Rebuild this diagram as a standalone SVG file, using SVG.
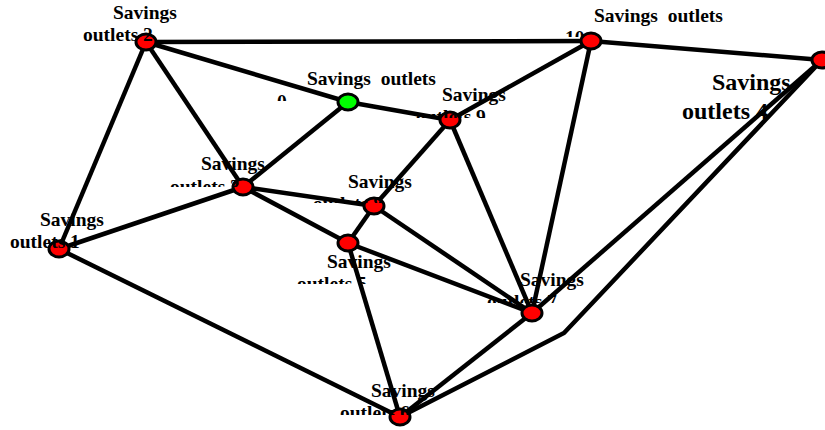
<svg xmlns="http://www.w3.org/2000/svg" width="825" height="430" viewBox="0 0 825 430">
<style>
.e{stroke:#000;stroke-width:4.5;fill:none;stroke-linejoin:miter}
.n{fill:#f00;stroke:#000;stroke-width:3}
.g{fill:#0f0;stroke:#000;stroke-width:3}
.t{font-family:'Liberation Serif','Times New Roman',serif;font-weight:bold;font-size:19.5px;fill:#000}
.big{font-size:24px}
</style>
<defs>
<clipPath id="c0"><rect x="0" y="0" width="825" height="101"/></clipPath>
<clipPath id="c9"><rect x="0" y="0" width="825" height="118"/></clipPath>
<clipPath id="c10"><rect x="0" y="0" width="825" height="37"/></clipPath>
<clipPath id="c3"><rect x="0" y="0" width="825" height="187"/></clipPath>
<clipPath id="c8"><rect x="0" y="0" width="825" height="203"/></clipPath>
<clipPath id="c5"><rect x="0" y="0" width="825" height="284"/></clipPath>
<clipPath id="c7"><rect x="0" y="0" width="825" height="303"/></clipPath>
<clipPath id="c6"><rect x="0" y="0" width="825" height="415"/></clipPath>
</defs>
<rect width="825" height="430" fill="#fff"/>
<g id="connectors">
<line class="e" x1="146" y1="42" x2="591" y2="41"/>
<line class="e" x1="591" y1="41" x2="822" y2="60"/>
<line class="e" x1="146" y1="42" x2="348" y2="102"/>
<line class="e" x1="348" y1="102" x2="450" y2="120"/>
<line class="e" x1="450" y1="120" x2="591" y2="41"/>
<line class="e" x1="146" y1="42" x2="59" y2="249"/>
<line class="e" x1="146" y1="42" x2="243" y2="187"/>
<line class="e" x1="243" y1="187" x2="348" y2="102"/>
<line class="e" x1="243" y1="187" x2="59" y2="249"/>
<line class="e" x1="243" y1="187" x2="374" y2="206"/>
<line class="e" x1="243" y1="187" x2="348" y2="243"/>
<line class="e" x1="374" y1="206" x2="450" y2="120"/>
<line class="e" x1="374" y1="206" x2="532" y2="313"/>
<line class="e" x1="450" y1="120" x2="532" y2="313"/>
<line class="e" x1="591" y1="41" x2="532" y2="313"/>
<line class="e" x1="374" y1="206" x2="348" y2="243"/>
<line class="e" x1="348" y1="243" x2="532" y2="313"/>
<line class="e" x1="348" y1="243" x2="400" y2="417"/>
<line class="e" x1="59" y1="249" x2="400" y2="417"/>
<line class="e" x1="532" y1="313" x2="400" y2="417"/>
<line class="e" x1="822" y1="60" x2="532" y2="313"/>
<polyline class="e" points="822,60 564,333 400,417"/>
</g>
<g id="n2"><ellipse class="n" cx="146" cy="42" rx="10" ry="8"/><text class="t" x="113" y="19">Savings</text><text class="t" x="83" y="41">outlets 2</text></g>
<g id="n0"><ellipse class="g" cx="348" cy="102" rx="10" ry="8"/><text class="t" x="307" y="85" xml:space="preserve">Savings  outlets</text><text class="t" x="277" y="108" clip-path="url(#c0)">0</text></g>
<g id="n9"><ellipse class="n" cx="450" cy="120" rx="10" ry="8"/><text class="t" x="442" y="101">Savings</text><text class="t" x="416" y="123" clip-path="url(#c9)">outlets 9</text></g>
<g id="n10"><ellipse class="n" cx="591" cy="41" rx="10" ry="8"/><text class="t" x="594" y="22" xml:space="preserve">Savings  outlets</text><text class="t" x="565" y="44" clip-path="url(#c10)">10</text></g>
<g id="n4"><ellipse class="n" cx="822" cy="60" rx="10" ry="8"/><text class="t big" x="712" y="90">Savings</text><text class="t big" x="682" y="119">outlets 4</text></g>
<g id="n3"><ellipse class="n" cx="243" cy="187" rx="10" ry="8"/><text class="t" x="201" y="170">Savings</text><text class="t" x="170" y="193" clip-path="url(#c3)">outlets 3</text></g>
<g id="n8"><ellipse class="n" cx="374" cy="206" rx="10" ry="8"/><text class="t" x="348" y="188">Savings</text><text class="t" x="313" y="210" clip-path="url(#c8)">outlets 8</text></g>
<g id="n1"><ellipse class="n" cx="59" cy="249" rx="10" ry="8"/><text class="t" x="40" y="226">Savings</text><text class="t" x="10" y="248">outlets 1</text></g>
<g id="n5"><ellipse class="n" cx="348" cy="243" rx="10" ry="8"/><text class="t" x="327" y="268">Savings</text><text class="t" x="297" y="290" clip-path="url(#c5)">outlets 5</text></g>
<g id="n7"><ellipse class="n" cx="532" cy="313" rx="10" ry="8"/><text class="t" x="520" y="286">Savings</text><text class="t" x="487" y="308" clip-path="url(#c7)">outlets 7</text></g>
<g id="n6"><ellipse class="n" cx="400" cy="417" rx="10" ry="8"/><text class="t" x="371" y="397">Savings</text><text class="t" x="340" y="419" clip-path="url(#c6)">outlets 6</text></g>
</svg>
